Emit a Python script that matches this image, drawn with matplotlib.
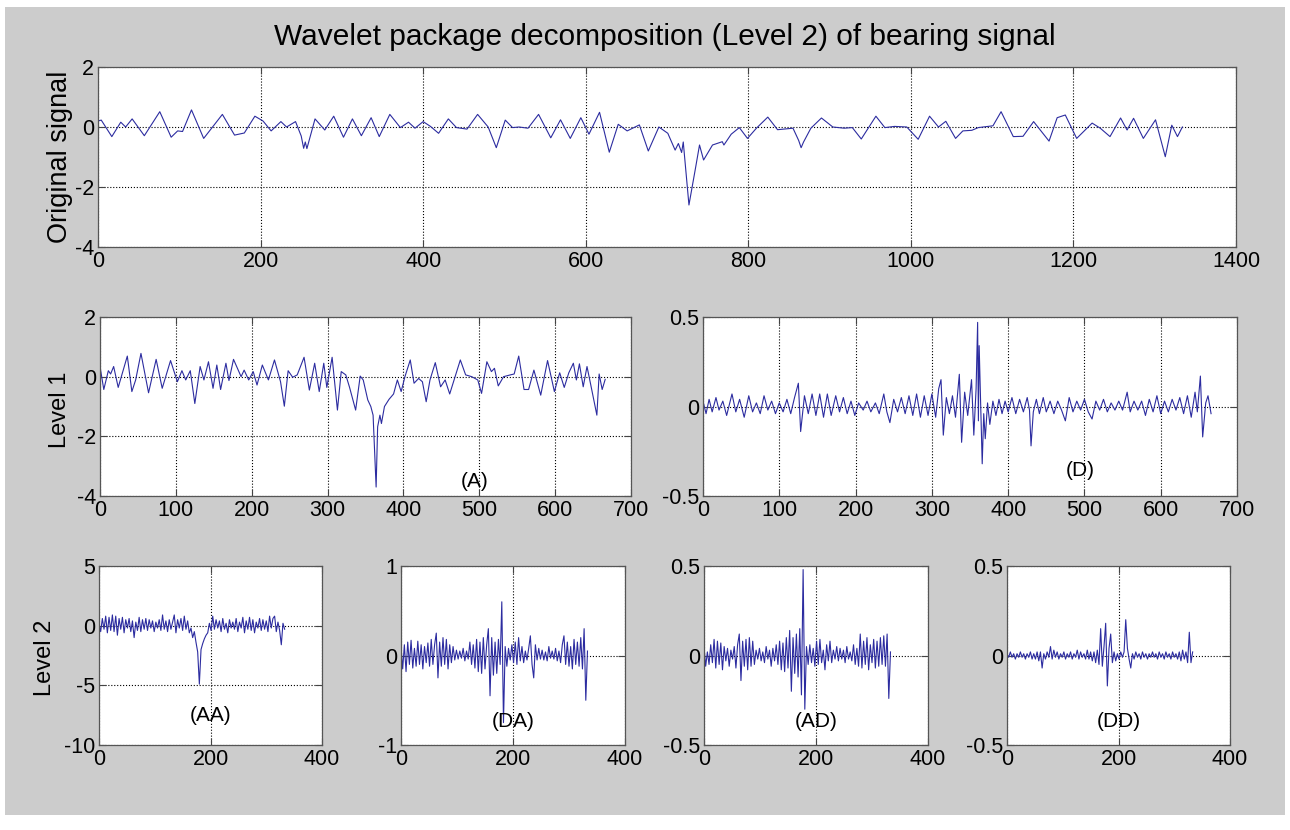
import numpy as np
import matplotlib
matplotlib.use("Agg")
import matplotlib.pyplot as plt
from matplotlib.patches import Rectangle

plt.rcParams['font.family'] = ['Liberation Sans', 'DejaVu Sans']
plt.rcParams['axes.unicode_minus'] = False

# ---- data (sample index, amplitude) ----
orig_pts = [(0, 0.20), (4, 0.23), (17, -0.32), (28, 0.16), (34, 0.0), (42, 0.27), (57, -0.29),
            (76, 0.51), (90, -0.34), (98, -0.13), (104, -0.15), (115, 0.57), (130, -0.38),
            (153, 0.42), (168, -0.27), (180, -0.20), (193, 0.36), (203, 0.20), (213, -0.13),
            (225, 0.18), (232, 0.0), (243, 0.18), (250, -0.30), (253, -0.71), (255, -0.50),
            (257, -0.72), (267, 0.27), (279, -0.10), (290, 0.36), (302, -0.34), (313, 0.27),
            (324, -0.29), (336, 0.31), (346, -0.32), (359, 0.42), (372, -0.02), (382, 0.16),
            (390, -0.04), (400, 0.18), (409, 0.02), (419, -0.21), (431, 0.27), (441, -0.02),
            (454, -0.07), (467, 0.42), (480, 0.0), (490, -0.69), (501, 0.23), (510, -0.02),
            (518, 0.0), (529, -0.04), (542, 0.42), (557, -0.36), (569, 0.24), (581, -0.38),
            (594, 0.31), (604, -0.24), (617, 0.49), (629, -0.84), (640, 0.09), (651, -0.13),
            (666, 0.07), (677, -0.80), (690, 0.0), (701, -0.21), (710, -0.77), (714, -0.55),
            (718, -0.85), (720, -0.50), (727, -2.60), (735, -1.38), (740, -0.60), (745, -1.10),
            (756, -0.60), (768, -0.49), (770, -0.60), (779, -0.24), (789, -0.02), (799, -0.38),
            (810, -0.04), (824, 0.33), (836, -0.09), (855, -0.04), (862, -0.45), (865, -0.69),
            (868, -0.50), (877, -0.04), (890, 0.30), (904, 0.0), (918, -0.04), (928, -0.02),
            (939, -0.40), (957, 0.36), (968, -0.02), (980, 0.02), (995, 0.0), (1009, -0.41),
            (1023, 0.36), (1034, 0.0), (1043, 0.19), (1055, -0.38), (1064, -0.13), (1075, -0.11),
            (1083, -0.02), (1101, 0.04), (1111, 0.51), (1126, -0.32), (1138, -0.31), (1151, 0.18),
            (1170, -0.47), (1180, 0.31), (1190, 0.40), (1204, -0.38), (1223, 0.13), (1233, -0.04),
            (1245, -0.32), (1258, 0.30), (1266, -0.10), (1274, 0.29), (1286, -0.38), (1301, 0.24),
            (1313, -0.99), (1321, 0.06), (1328, -0.32), (1334, 0.0)]

a_pts = [(0, 0.34), (5, -0.43), (11, 0.20), (14, 0.09), (18, 0.34), (24, -0.36), (36, 0.69),
         (42, -0.50), (47, -0.11), (54, 0.78), (64, -0.54), (74, 0.58), (82, -0.39), (93, 0.54),
         (102, -0.17), (108, 0.20), (113, -0.11), (119, 0.20), (125, -0.90), (132, 0.34),
         (137, -0.11), (143, 0.50), (149, -0.39), (154, 0.39), (159, -0.43), (166, 0.45),
         (170, -0.13), (176, 0.58), (186, 0.0), (190, 0.22), (196, -0.11), (202, 0.17),
         (207, -0.28), (214, 0.39), (222, -0.11), (230, 0.56), (238, -0.17), (243, -0.99),
         (248, 0.20), (254, -0.02), (260, 0.06), (269, 0.65), (276, -0.45), (283, 0.45),
         (289, -0.50), (295, 0.45), (299, -0.36), (306, 0.65), (313, -1.12), (318, 0.17),
         (324, 0.06), (329, -0.36), (337, -1.12), (343, 0.02), (347, -0.11), (353, -0.78),
         (357, -1.00), (360, -1.29), (364, -3.70), (366, -1.68), (369, -1.29), (371, -1.57),
         (375, -1.00), (381, -0.76), (387, -0.58), (392, -0.11), (397, -0.50), (402, 0.0),
         (409, 0.56), (414, -0.22), (420, -0.06), (425, -0.17), (430, -0.84), (435, -0.11),
         (442, 0.47), (449, -0.34), (455, -0.11), (461, -0.58), (475, 0.56), (482, 0.06),
         (490, 0.0), (498, -0.11), (503, -0.56), (510, 0.50), (516, 0.17), (520, 0.28),
         (525, -0.31), (532, 0.0), (541, 0.06), (546, 0.09), (552, 0.69), (559, -0.43),
         (565, -0.43), (572, 0.22), (581, -0.62), (590, 0.54), (599, -0.50), (606, 0.13),
         (612, -0.36), (618, 0.13), (624, 0.45), (628, -0.11), (632, 0.43), (637, -0.34),
         (642, 0.34), (647, -0.28), (655, -1.29), (658, 0.09), (662, -0.43), (666, -0.09)]

d_pts = [(0, 0.03), (4, -0.04), (8, 0.04), (12, -0.03), (17, 0.05), (21, -0.02), (26, 0.03),
         (31, -0.05), (38, 0.07), (43, -0.03), (48, 0.04), (54, -0.06), (60, 0.06), (65, -0.03),
         (70, 0.02), (75, -0.04), (80, 0.06), (85, -0.02), (90, 0.03), (95, -0.04), (100, 0.02),
         (105, -0.03), (110, 0.04), (115, -0.04), (120, 0.05), (125, 0.13), (128, -0.14),
         (133, 0.06), (138, -0.04), (143, 0.07), (148, -0.05), (153, 0.07), (158, -0.06),
         (163, 0.07), (168, -0.05), (174, 0.06), (179, -0.03), (184, 0.05), (189, -0.04),
         (194, 0.03), (199, -0.05), (204, 0.02), (210, -0.02), (215, 0.03), (220, -0.03),
         (226, 0.02), (231, -0.04), (237, 0.07), (241, -0.03), (245, -0.09), (250, 0.04),
         (255, -0.03), (260, 0.05), (265, -0.04), (270, 0.06), (275, -0.05), (280, 0.07),
         (285, -0.06), (290, 0.06), (295, -0.05), (300, 0.07), (305, -0.06), (309, 0.10),
         (312, 0.15), (315, -0.16), (319, 0.05), (323, -0.04), (327, 0.06), (331, -0.06),
         (336, 0.18), (339, -0.20), (343, 0.08), (347, -0.05), (352, 0.15), (355, -0.16),
         (358, 0.10), (360, 0.47), (361, -0.08), (362, 0.34), (366, -0.32), (368, -0.04),
         (370, -0.18), (373, 0.02), (376, -0.10), (380, 0.03), (384, -0.05), (388, 0.04),
         (392, -0.04), (396, 0.03), (400, -0.03), (405, 0.05), (410, -0.04), (415, 0.04),
         (420, -0.03), (425, 0.05), (428, -0.02), (430, -0.22), (433, -0.03), (437, 0.04),
         (441, -0.04), (446, 0.05), (450, -0.03), (455, 0.03), (460, -0.04), (465, 0.03),
         (470, -0.02), (475, -0.08), (480, 0.05), (485, -0.03), (490, 0.03), (495, -0.02),
         (500, 0.04), (505, -0.03), (510, -0.07), (515, 0.03), (520, -0.02), (525, 0.04),
         (530, -0.03), (535, 0.02), (540, -0.02), (545, 0.03), (550, -0.02), (556, 0.08),
         (560, -0.03), (565, 0.03), (570, -0.02), (575, 0.03), (580, -0.05), (585, 0.04),
         (590, -0.03), (595, 0.06), (600, -0.04), (605, 0.03), (610, -0.03), (615, 0.04),
         (620, -0.02), (625, 0.05), (630, -0.04), (635, 0.06), (640, -0.06), (645, 0.08),
         (648, -0.03), (652, 0.17), (655, -0.17), (659, 0.02), (662, 0.06), (666, -0.04)]

# level 2 coefficients, one value every 3 samples (0 .. 333)
aa_vals = [0.2, -0.5, 0.6, -0.3, 0.8, -0.6, 0.7, -0.4, 0.9, -0.5, 0.8, -0.8, 0.6, -0.3, 0.7,
           -0.6, 0.5, -0.2, 0.6, -0.5, 0.4, -1.0, 0.3, -0.4, 0.7, -0.5, 0.5, -0.3, 0.6, -0.4,
           0.5, -0.2, 0.4, -0.5, 0.3, -0.2, 0.5, -0.4, 0.9, -0.3, 0.4, -0.5, 0.5, -0.3, 0.3,
           0.9, -0.6, 0.5, -0.2, 0.6, -0.4, 0.8, -0.3, 0.4, -0.6, -0.2, -1.0, -0.5, -1.4, -2.2,
           -4.9, -2.0, -1.5, -1.1, -0.8, -0.6, 0.2, -0.4, 0.8, -0.3, 0.5, -0.2, 0.4, -0.5, 0.6,
           -0.3, 0.2, -0.6, 0.5, -0.2, 0.3, -0.3, 0.6, -0.5, 0.3, -0.2, 0.7, -0.6, 0.4, -0.3,
           0.7, -0.4, 0.5, -0.6, 0.3, -0.2, 0.6, -0.4, 0.5, -0.3, 0.4, -0.5, 0.8, -0.2, 0.6,
           0.8, -0.5, 0.3, -0.4, -1.6, 0.2, -0.3]

da_vals = [0.10, -0.15, 0.12, -0.18, 0.15, -0.10, 0.17, -0.14, 0.08, -0.12, 0.16, -0.10, 0.12,
           -0.15, 0.10, -0.08, 0.14, -0.12, 0.18, -0.10, 0.12, 0.25, -0.25, 0.15, -0.12, 0.20,
           -0.10, 0.18, -0.15, 0.12, -0.08, 0.10, -0.05, 0.06, -0.04, 0.05, -0.03, 0.08, -0.06,
           0.05, -0.04, 0.15, -0.10, 0.12, -0.14, 0.18, -0.18, 0.15, -0.20, 0.20, -0.15, 0.12,
           0.30, -0.45, 0.20, -0.22, 0.15, -0.20, 0.18, -0.10, 0.60, -0.75, 0.10, -0.12, 0.08,
           -0.05, 0.12, -0.08, 0.15, -0.10, 0.20, -0.06, 0.10, -0.08, 0.05, -0.05, 0.08, 0.22,
           -0.10, -0.25, 0.12, -0.05, 0.08, -0.04, 0.06, -0.05, 0.04, -0.06, 0.10, -0.03, 0.05,
           -0.04, 0.08, -0.06, 0.05, -0.08, 0.12, 0.22, -0.10, 0.15, -0.12, 0.10, -0.15, 0.18,
           -0.10, 0.15, -0.12, 0.20, -0.15, 0.30, -0.50, 0.05]

ad_vals = [0.05, -0.06, 0.02, -0.05, 0.06, -0.04, 0.09, -0.07, 0.08, -0.05, 0.07, -0.08, 0.05,
           -0.03, 0.04, -0.06, 0.03, -0.02, 0.05, -0.07, 0.06, 0.12, -0.14, 0.08, -0.06, 0.09,
           -0.08, 0.10, -0.06, 0.08, -0.05, 0.03, -0.02, 0.04, -0.03, 0.02, -0.04, 0.05, -0.02,
           0.03, -0.06, 0.04, -0.03, 0.06, -0.05, 0.08, -0.08, 0.07, -0.09, 0.10, -0.07, 0.14,
           -0.20, 0.10, -0.10, 0.12, -0.12, 0.15, -0.22, 0.48, -0.30, 0.05, -0.05, 0.06, -0.04,
           0.04, -0.06, 0.08, -0.05, 0.09, -0.04, 0.03, -0.08, 0.06, -0.03, 0.08, -0.04, 0.03,
           -0.02, 0.05, -0.03, 0.04, -0.02, 0.03, -0.04, 0.05, -0.02, 0.02, -0.03, 0.06, -0.05,
           0.04, -0.06, 0.12, -0.07, 0.08, -0.05, 0.10, -0.08, 0.06, -0.04, 0.09, -0.07, 0.08,
           -0.06, 0.10, -0.05, 0.11, -0.06, 0.12, -0.24, 0.02]

dd_vals = [0.01, -0.01, 0.02, -0.01, 0.01, -0.02, 0.01, -0.01, 0.02, -0.01, 0.01, -0.02, 0.01,
           -0.01, 0.02, -0.02, 0.01, -0.02, 0.02, -0.03, 0.02, -0.07, 0.01, -0.02, 0.02, -0.01,
           0.05, -0.02, 0.03, -0.01, 0.02, -0.02, 0.01, -0.01, 0.02, -0.02, 0.01, -0.01, 0.02,
           -0.02, 0.01, -0.01, 0.03, -0.02, 0.02, -0.01, 0.01, -0.02, 0.03, -0.02, 0.02, -0.03,
           0.02, -0.04, 0.03, -0.05, 0.15, -0.06, 0.05, 0.18, -0.17, 0.04, 0.12, -0.04, 0.02,
           -0.03, 0.01, -0.02, 0.02, -0.01, 0.02, 0.20, 0.04, -0.02, -0.07, 0.01, -0.02, 0.02,
           -0.01, 0.01, -0.02, 0.02, -0.01, 0.01, -0.02, 0.01, -0.01, 0.02, -0.01, 0.01, -0.02,
           0.02, -0.01, 0.01, -0.02, 0.02, -0.01, 0.01, -0.02, 0.02, -0.01, 0.01, -0.02, 0.02,
           -0.03, 0.03, -0.02, 0.02, -0.04, 0.13, -0.04, 0.02]
level2_step = 3

LINE = '#2c2ca0'
W, H = 1290, 830
TICK_FS = 15.5
NOTE_FS = 15


def px_axes(fig, x0, x1, y0, y1):
    # axes placed by pixel box (left, right, top, bottom) of the reference
    return fig.add_axes([x0 / W, 1 - y1 / H, (x1 - x0) / W, (y1 - y0) / H])


def style(ax, xlim, xticks, ylim, yticks, ylabels=None):
    ax.set_xlim(*xlim)
    ax.set_ylim(*ylim)
    ax.set_xticks(xticks)
    ax.set_yticks(yticks)
    if ylabels is not None:
        ax.set_yticklabels(ylabels)
    ax.grid(True, color='black', linestyle=':', linewidth=0.8)
    ax.tick_params(direction='in', top=True, right=True, length=5, labelsize=TICK_FS, pad=3,
                   color='#444444')
    for s in ax.spines.values():
        s.set_color('#555555')
        s.set_linewidth(0.9)
    ax.set_facecolor('white')


fig = plt.figure(figsize=(W / 100, H / 100), dpi=100, facecolor='white')
fig.patches.append(Rectangle((5 / W, 1 - 815 / H), 1280 / W, 808 / H,
                             transform=fig.transFigure, facecolor='#cccccc',
                             edgecolor='none', zorder=-10))

fig.text(665 / W, 1 - 37 / H, 'Wavelet package decomposition (Level 2) of bearing signal',
         ha='center', va='center', fontsize=21.5)

# original signal
ax = px_axes(fig, 98, 1236, 67, 247)
ox, oy = np.array(orig_pts).T
ax.plot(ox, oy, color=LINE, linewidth=0.8)
style(ax, (0, 1400), range(0, 1401, 200), (-4, 2), [-4, -2, 0, 2])
fig.text(60 / W, 1 - 157 / H, 'Original signal', rotation=90, ha='center', va='center',
         fontsize=19.5)

# level 1
ax = px_axes(fig, 100, 631, 317, 496)
axx, ayy = np.array(a_pts).T
ax.plot(axx, ayy, color=LINE, linewidth=0.8)
style(ax, (0, 700), range(0, 701, 100), (-4, 2), [-4, -2, 0, 2])
ax.text(494, -3.53, '(A)', ha='center', va='center', fontsize=NOTE_FS)
fig.text(60 / W, 1 - 410 / H, 'Level 1', rotation=90, ha='center', va='center', fontsize=17)

ax = px_axes(fig, 703, 1237, 317, 496)
dx, dy = np.array(d_pts).T
ax.plot(dx, dy, color=LINE, linewidth=0.8)
style(ax, (0, 700), range(0, 701, 100), (-0.5, 0.5), [-0.5, 0, 0.5], ['-0.5', '0', '0.5'])
ax.text(494, -0.355, '(D)', ha='center', va='center', fontsize=NOTE_FS)

# level 2
fig.text(45 / W, 1 - 658 / H, 'Level 2', rotation=90, ha='center', va='center', fontsize=17)
panels = [
    (99, 322, aa_vals, (-10, 5), [-10, -5, 0, 5], None, '(AA)', -7.56),
    (401, 625, da_vals, (-1, 1), [-1, 0, 1], None, '(DA)', -0.74),
    (704, 928, ad_vals, (-0.5, 0.5), [-0.5, 0, 0.5], ['-0.5', '0', '0.5'], '(AD)', -0.37),
    (1007, 1230, dd_vals, (-0.5, 0.5), [-0.5, 0, 0.5], ['-0.5', '0', '0.5'], '(DD)', -0.37),
]
for x0, x1, vals, ylim, yt, ylab, name, ty in panels:
    ax = px_axes(fig, x0, x1, 566, 745)
    xs = np.arange(len(vals)) * level2_step
    ax.plot(xs, vals, color=LINE, linewidth=0.8)
    style(ax, (0, 400), [0, 200, 400], ylim, yt, ylab)
    ax.text(200, ty, name, ha='center', va='center', fontsize=NOTE_FS)

fig.savefig('out.png', dpi=100, facecolor=fig.get_facecolor())
